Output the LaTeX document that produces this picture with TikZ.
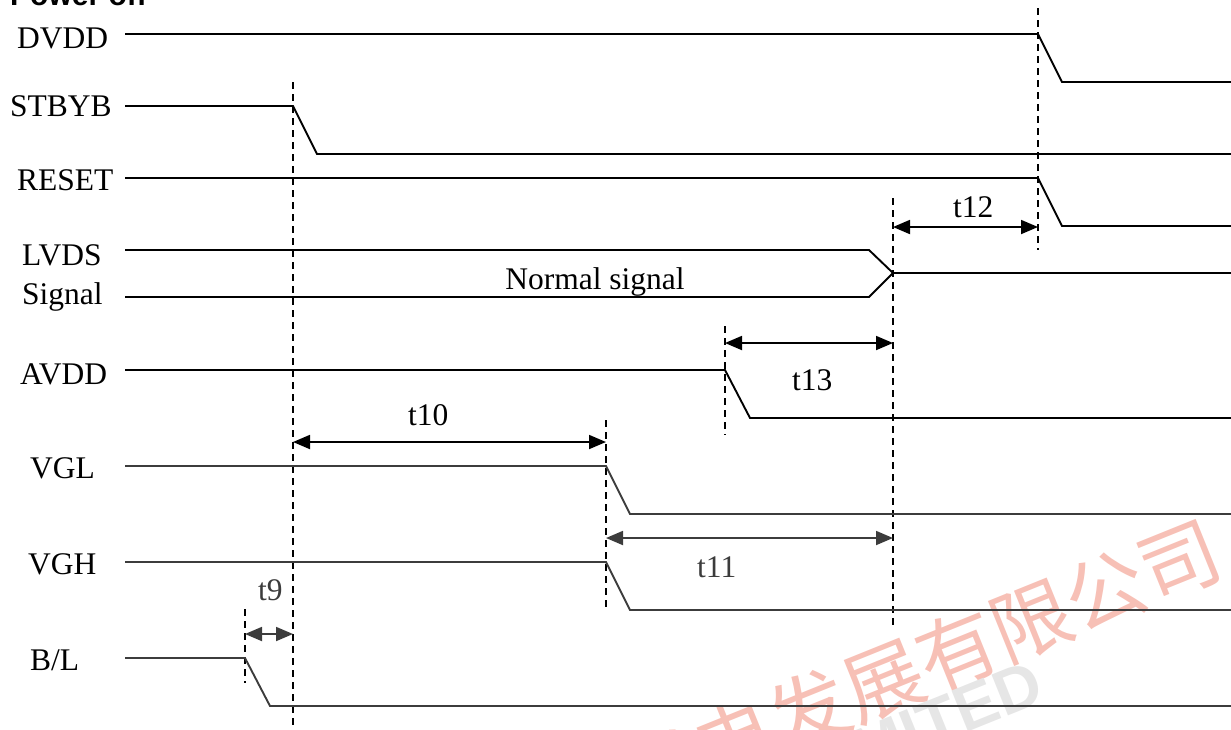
\documentclass[tikz,border=0pt]{standalone}
\usepackage{fontspec}
\setmainfont{Liberation Serif}
\newfontfamily\wmcjk{Noto Sans CJK SC}
\newfontfamily\wmsans{Liberation Sans}
\usetikzlibrary{arrows.meta}
\definecolor{wmpink}{RGB}{247,192,182}
\definecolor{wmgrey}{RGB}{230,230,230}
\definecolor{lowgrey}{RGB}{60,60,60}
\tikzset{
  lbl/.style={anchor=base west, inner sep=0pt, font=\fontsize{31.5}{31.5}\selectfont},
  tlbl/.style={anchor=base west, inner sep=0pt, font=\fontsize{31.5}{31.5}\selectfont},
  sig/.style={line width=1.9pt, line join=miter},
  mark line/.style={line width=1.5pt, dash pattern=on 7pt off 5pt},
  dim/.style={{Triangle[length=17pt,width=14pt]}-{Triangle[length=17pt,width=14pt]}, line width=1.8pt},
}
\begin{document}
\begin{tikzpicture}[x=1pt,y=-1pt]
\useasboundingbox (0,0) rectangle (1231,729);
% watermark
\node[rotate=22, text=wmpink, inner sep=0pt, font=\wmcjk\fontsize{80}{80}\selectfont] (wm1) at (920,665) {光电发展有限公司};
\node[rotate=22, text=wmgrey, inner sep=0pt, font=\wmsans\bfseries\fontsize{64}{64}\selectfont] (wm2) at (920,728) {LIMITED};
% title (cut off)
\node[anchor=base west, inner sep=0pt, font=\wmsans\bfseries\fontsize{30}{30}\selectfont] (title) at (10,5) {Power off};
% labels
\node[lbl] (lDVDD) at (17,48) {DVDD};
\node[lbl] (lSTBYB) at (10,116) {STBYB};
\node[lbl] (lRESET) at (17,190) {RESET};
\node[lbl] (lLVDS) at (22,265) {LVDS};
\node[lbl] (lSignal) at (22,304) {Signal};
\node[lbl] (lAVDD) at (20,384) {AVDD};
\node[lbl] (lVGL) at (30,478) {VGL};
\node[lbl] (lVGH) at (28,574) {VGH};
\node[lbl] (lBL) at (30,670) {B/L};
\node[anchor=base, inner sep=0pt, font=\fontsize{31.5}{31.5}\selectfont] (normal) at (595,289) {Normal signal};
% dashed markers
\coordinate (d1t) at (1038,8);   \coordinate (d1b) at (1038,250);
\coordinate (d2t) at (293,82);   \coordinate (d2b) at (293,729);
\coordinate (d3t) at (893,198);  \coordinate (d3b) at (893,628);
\coordinate (d4t) at (725,326);  \coordinate (d4b) at (725,435);
\coordinate (d5t) at (606,420);  \coordinate (d5b) at (606,610);
\coordinate (d6t) at (245,609);  \coordinate (d6b) at (245,683);
\draw[mark line] (d1t) -- (d1b);
\draw[mark line] (d2t) -- (d2b);
\draw[mark line] (d3t) -- (d3b);
\draw[mark line] (d4t) -- (d4b);
\draw[mark line] (d5t) -- (d5b);
\draw[mark line] (d6t) -- (d6b);
% waveforms
\draw[sig] (125,34) -- (1038,34) -- (1062,82) -- (1231,82);
\draw[sig] (125,106) -- (293,106) -- (317,154) -- (1231,154);
\draw[sig] (125,178) -- (1038,178) -- (1062,226) -- (1231,226);
\draw[sig] (125,250) -- (869,250) -- (893,273) -- (869,297) -- (125,297);
\draw[sig] (893,273) -- (1231,273);
\draw[sig] (125,370) -- (725,370) -- (750,418) -- (1231,418);
\draw[sig, draw=lowgrey] (125,466) -- (606,466) -- (630,514) -- (1231,514);
\draw[sig, draw=lowgrey] (125,562) -- (606,562) -- (630,610) -- (1231,610);
\draw[sig, draw=lowgrey] (125,658) -- (245,658) -- (270,706) -- (1231,706);
% dimension arrows
\coordinate (a12l) at (893,227);  \coordinate (a12r) at (1038,227);
\coordinate (a13l) at (725,343);  \coordinate (a13r) at (893,343);
\coordinate (a10l) at (293,442);  \coordinate (a10r) at (606,442);
\coordinate (a11l) at (606,538);  \coordinate (a11r) at (893,538);
\coordinate (a9l) at (245,634);   \coordinate (a9r) at (293,634);
\draw[dim] (a12l) -- (a12r);
\draw[dim] (a13l) -- (a13r);
\draw[dim] (a10l) -- (a10r);
\draw[dim, draw=lowgrey, fill=lowgrey] (a11l) -- (a11r);
\draw[dim, draw=lowgrey, fill=lowgrey] (a9l) -- (a9r);
\node[tlbl] (t12) at (953,217) {t12};
\node[tlbl] (t13) at (792,390) {t13};
\node[tlbl] (t10) at (408,425) {t10};
\node[tlbl, text=lowgrey] (t11) at (697,577) {t11};
\node[tlbl, text=lowgrey] (t9) at (258,600) {t9};
\end{tikzpicture}
\end{document}
